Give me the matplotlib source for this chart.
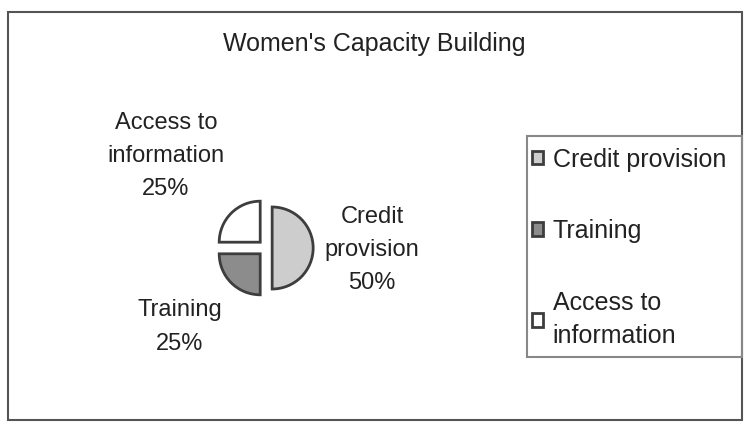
import matplotlib
matplotlib.use("Agg")
import matplotlib.pyplot as plt
from matplotlib.patches import Rectangle

plt.rcParams['font.family'] = ['Liberation Sans', 'DejaVu Sans']

title = "Women's Capacity Building"
categories = ["Credit provision", "Training", "Access to information"]
pie_labels = ["Credit\nprovision", "Training", "Access to\ninformation"]
legend_labels = ["Credit provision", "Training", "Access to\ninformation"]
values = [50, 25, 25]
colors = ["#cdcdcd", "#8c8c8c", "#ffffff"]
explode = [0.15, 0.2, 0.2]

W, H = 745, 424
fig = plt.figure(figsize=(W / 100, H / 100), dpi=100)
fig.patch.set_facecolor("white")

def fx(px):
    return px / W

def fy(py):
    return 1 - py / H

# outer frame
fig.add_artist(Rectangle((fx(8), fy(420)), fx(742) - fx(8), fy(12) - fy(420),
                         transform=fig.transFigure, fill=False,
                         edgecolor="#555555", linewidth=1.5))

fig.text(fx(374), fy(44), title, ha="center", va="center", fontsize=18, color="#222222")

# pie axes
cx, cy, size = 266, 248, 200
ax = fig.add_axes([fx(cx - size / 2), fy(cy + size / 2), size / W, size / H])
wedges, _ = ax.pie(values, colors=colors, explode=explode, startangle=90,
                   counterclock=False, radius=1,
                   wedgeprops=dict(edgecolor="#3d3d3d", linewidth=2))
lim = size / 2 / 41
ax.set_xlim(-lim, lim)
ax.set_ylim(-lim, lim)
ax.set_aspect("auto")
ax.axis("off")

total = sum(values)
label_pos = [(372, 250), (180, 327), (166, 156)]
for lab, v, (px, py) in zip(pie_labels, values, label_pos):
    fig.text(fx(px), fy(py), f"{lab}\n{v / total * 100:.0f}%", ha="center", va="center",
             fontsize=17, color="#222222", linespacing=1.66)

# legend frame
fig.add_artist(Rectangle((fx(527), fy(357)), fx(742) - fx(527), fy(136) - fy(357),
                         transform=fig.transFigure, fill=False,
                         edgecolor="#888888", linewidth=1.5))
leg = fig.legend(wedges, legend_labels, loc="upper left",
                 bbox_to_anchor=(fx(509), fy(125)), frameon=False,
                 fontsize=18, labelspacing=1.9, handlelength=0.45, handleheight=0.45,
                 handletextpad=0.4, labelcolor="#222222")
for t in leg.get_texts():
    t.set_linespacing(1.5)

fig.savefig("out.png", dpi=100)
